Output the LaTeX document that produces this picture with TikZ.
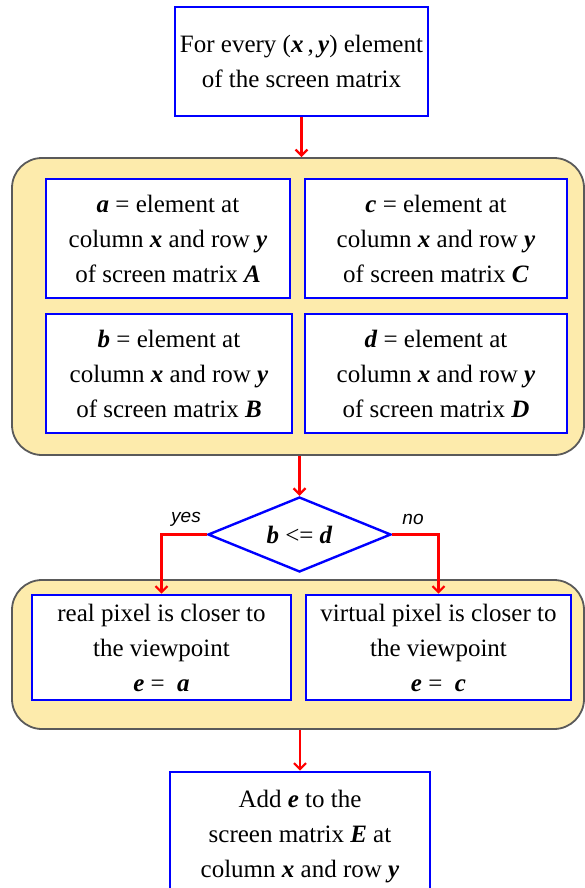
\documentclass[tikz,border=0pt]{standalone}
\usepackage{fontspec}
\setmainfont{Liberation Serif}
\newfontfamily\labelfont{Liberation Sans}
\usetikzlibrary{shapes.geometric, arrows.meta}

\definecolor{groupfill}{RGB}{253,235,172}
\definecolor{groupline}{RGB}{90,90,90}
\newcommand{\bv}[1]{\textbf{\textit{#1}}}

\tikzset{
  stepbox/.style={draw=blue, line width=2.6pt, fill=white, align=center,
    font=\fontsize{25}{35}\selectfont, inner sep=0pt},
  groupbox/.style={draw=groupline, line width=1.8pt, fill=groupfill,
    rounded corners=30pt, inner sep=0pt},
  testbox/.style={diamond, draw=blue, line width=2.4pt, fill=white, aspect=2.44,
    font=\fontsize{25}{30}\selectfont, inner sep=0pt},
  flow/.style={draw=red, line width=2.2pt, -{Straight Barb[length=6pt,width=12pt]}},
  answer/.style={font=\labelfont\itshape\fontsize{19}{22}\selectfont},
}

\begin{document}
\begin{tikzpicture}[x=1pt, y=-1pt]
\useasboundingbox (0,0) rectangle (585,888);
% the two yellow groups
\node[groupbox, minimum width=572pt, minimum height=297pt] (grp1) at (298,306.5) {};
\node[groupbox, minimum width=572pt, minimum height=149pt] (grp2) at (298,654.5) {};
% top box
\node[stepbox, minimum width=253pt, minimum height=109pt] (every) at (301.5,61.5)
  {For every (\bv{x}\,,\,\bv{y}) element\\of the screen matrix};
% four element boxes
\node[stepbox, minimum width=244pt, minimum height=119pt] (elemA) at (168,238.5)
  {\bv{a} = element at\\column \bv{x} and row \bv{y}\\of screen matrix \bv{A}};
\node[stepbox, minimum width=262pt, minimum height=119pt] (elemC) at (436,238.5)
  {\bv{c} = element at\\column \bv{x} and row \bv{y}\\of screen matrix \bv{C}};
\node[stepbox, minimum width=246pt, minimum height=119pt] (elemB) at (169,373.5)
  {\bv{b} = element at\\column \bv{x} and row \bv{y}\\of screen matrix \bv{B}};
\node[stepbox, minimum width=262pt, minimum height=119pt] (elemD) at (436,373.5)
  {\bv{d} = element at\\column \bv{x} and row \bv{y}\\of screen matrix \bv{D}};
% decision
\node[testbox, minimum width=183pt, minimum height=75pt] (test) at (299.5,534.5)
  {\bv{b} <= \bv{d}};
\node[answer] (yes) at (186,519) {yes};
\node[answer] (no) at (413,519) {no};
% results
\node[stepbox, minimum width=259pt, minimum height=105pt] (real) at (161.5,647.5)
  {real pixel is closer to\\the viewpoint\\\bv{e} =\ \ \bv{a}};
\node[stepbox, minimum width=265pt, minimum height=105pt] (virt) at (438.5,647.5)
  {virtual pixel is closer to\\the viewpoint\\\bv{e} =\ \ \bv{c}};
% last box
\node[stepbox, minimum width=260pt, minimum height=130pt] (store) at (300,837)
  {Add \bv{e} to the\\screen matrix \bv{E} at\\column \bv{x} and row \bv{y}};
% connectors
\draw[flow] (every.south) -- (every.south |- grp1.north);
\draw[flow] (grp1.south -| test.north) -- (test.north);
\draw[flow] (test.west) -| (real.north);
\draw[flow] (test.east) -| (virt.north);
\draw[flow] (grp2.south -| store.north) -- (store.north);
\end{tikzpicture}
\end{document}
